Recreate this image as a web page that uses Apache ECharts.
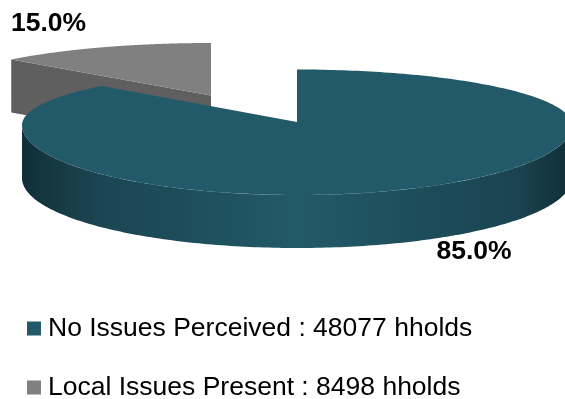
<!DOCTYPE html>
<html>
<head>
<meta charset="utf-8">
<style>html,body{margin:0;padding:0;background:#fff}#c{width:565px;height:399px}</style>
<script src="https://cdn.jsdelivr.net/npm/echarts@6/dist/echarts.min.js"></script>
</head>
<body>
<div id="c"></div>
<script>
var categories = ['No Issues Perceived', 'Local Issues Present'];
var households = [48077, 8498];
var colors = ['#235a69', '#808080'];
var wallColors = ['#235a69', '#5f5f5f'];

var total = households.reduce(function (a, b) { return a + b; }, 0);
var CX = 297, CY = 125, RX = 275, RY_TOP = 55.5, RY_BOT = 70, APEX_Y = 122, DEPTH = 53;

// Rim of the tilted disc: the far half is flatter than the near half.
function hit(dx, dy, ry) {
  var e = APEX_Y - CY;
  var a = dx * dx / (RX * RX) + dy * dy / (ry * ry);
  var b = 2 * e * dy / (ry * ry);
  var c = e * e / (ry * ry) - 1;
  return (-b + Math.sqrt(b * b - 4 * a * c)) / (2 * a);
}
function rim(frac, ox, oy, sx) {
  var t = frac * 2 * Math.PI;
  var dx = Math.sin(t) * RX, dy = -Math.cos(t) * RY_BOT;
  var s = hit(dx, dy, RY_TOP);
  if (APEX_Y + dy * s > CY) s = hit(dx, dy, RY_BOT);
  return [CX + dx * s * sx + ox, APEX_Y + dy * s + oy];
}
function arc(f0, f1, ox, oy, sx) {
  var pts = [], n = 240;
  for (var i = 0; i <= n; i++) pts.push(rim(f0 + (f1 - f0) * i / n, ox, oy, sx));
  return pts;
}
function shifted(pts, d) { return pts.map(function (p) { return [p[0], p[1] + d]; }); }

function renderMain() {
  var frac = households[0] / total;
  var top = [[CX, APEX_Y]].concat(arc(0, frac, 0, 0, 1));
  var lower = [];
  for (var i = 0; i <= 180; i++) {
    var a = Math.PI * i / 180;
    lower.push([CX + RX * Math.cos(a), CY + RY_BOT * Math.sin(a)]);
  }
  var wall = lower.concat(shifted(lower, DEPTH).reverse());
  var grad = new echarts.graphic.LinearGradient(0, 0, 1, 0, [
    { offset: 0, color: '#0f2f38' }, { offset: 0.05, color: '#15383f' },
    { offset: 0.14, color: '#1b4552' }, { offset: 0.32, color: '#1e4f5c' },
    { offset: 0.5, color: wallColors[0] }, { offset: 0.74, color: '#1d4c59' },
    { offset: 0.9, color: '#1a4450' }, { offset: 0.95, color: '#153842' },
    { offset: 1, color: '#0f2f38' }
  ]);
  return { type: 'group', children: [
    { type: 'polygon', shape: { points: wall }, style: { fill: grad } },
    { type: 'polygon', shape: { points: top }, style: { fill: colors[0] } },
    { type: 'text', style: { x: 474, y: 252, text: (frac * 100).toFixed(1) + '%', align: 'center', verticalAlign: 'middle',
      fill: '#000', font: 'bold 26.5px "Liberation Sans", Arial, sans-serif' } }
  ] };
}
function renderSmall() {
  var f0 = households[0] / total, ox = -86, oy = -26.5;
  var outer = arc(f0, 1, ox, oy, 1.022);
  var apex = [CX + ox, APEX_Y + oy];
  var top = [apex].concat(outer);
  var a = outer[0];
  var wall = [a, apex, [apex[0], apex[1] + DEPTH], [a[0], a[1] + DEPTH]];
  return { type: 'group', children: [
    { type: 'polygon', shape: { points: wall }, style: { fill: wallColors[1] } },
    { type: 'polygon', shape: { points: top }, style: { fill: colors[1] } },
    { type: 'text', style: { x: 48.5, y: 24, text: ((1 - f0) * 100).toFixed(1) + '%', align: 'center', verticalAlign: 'middle',
      fill: '#000', font: 'bold 26.5px "Liberation Sans", Arial, sans-serif' } }
  ] };
}
function legendName(i) { return categories[i] + ' : ' + households[i] + ' hholds'; }
function legendFor(i, top) {
  return {
    orient: 'vertical', left: 27, top: top, itemWidth: 14, itemHeight: 14, icon: 'rect', padding: 0,
    selectedMode: false,
    textStyle: { fontFamily: '"Liberation Sans", Arial, sans-serif', fontSize: 26.5, color: '#000', padding: [0, 0, 4, 2], lineHeight: 14 },
    data: [legendName(i)]
  };
}

var chart = echarts.init(document.getElementById('c'), null, { renderer: 'canvas' });
chart.setOption({
  animation: false,
  backgroundColor: '#fff',
  legend: [legendFor(0, 315), legendFor(1, 374)],
  series: [
    { type: 'custom', name: legendName(1), coordinateSystem: 'none', silent: true, z: 1,
      itemStyle: { color: colors[1] }, data: [households[1]], renderItem: renderSmall },
    { type: 'custom', name: legendName(0), coordinateSystem: 'none', silent: true, z: 2,
      itemStyle: { color: colors[0] }, data: [households[0]], renderItem: renderMain }
  ]
});
</script>
</body>
</html>
